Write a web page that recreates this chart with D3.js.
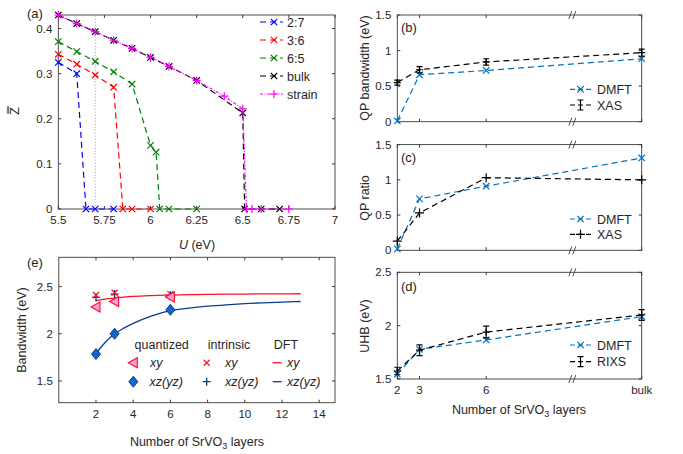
<!DOCTYPE html>
<html><head><meta charset="utf-8">
<script src="https://cdn.jsdelivr.net/npm/d3@7"></script>
<style>
body{margin:0;background:#fff}
text{font-family:"Liberation Sans",Arial,Helvetica,sans-serif;fill:#262626}
</style>
</head><body>
<svg id="c" width="683" height="454"></svg>
<script>
// ---------- Panel (a) data ----------
const u27 = [5.5, 5.6, 5.65, 5.7, 5.8];
const z27 = [0.325, 0.300, 0, 0, 0];
const u36 = [5.5, 5.6, 5.7, 5.8, 5.85, 5.9, 6.0];
const z36 = [0.343, 0.321, 0.297, 0.270, 0, 0, 0];
const u65 = [5.5, 5.6, 5.7, 5.8, 5.9, 6.0, 6.03, 6.05, 6.1, 6.25];
const z65 = [0.371, 0.349, 0.327, 0.304, 0.277, 0.141, 0.126, 0, 0, 0];
const uBulk = [5.5, 5.6, 5.7, 5.8, 5.9, 6.0, 6.1, 6.25, 6.5, 6.51, 6.6, 6.7];
const zBulk = [0.430, 0.411, 0.393, 0.374, 0.356, 0.336, 0.316, 0.285, 0.213, 0, 0, 0];
const uStrain = [5.5, 5.6, 5.7, 5.8, 5.9, 6.0, 6.1, 6.25, 6.4, 6.5, 6.52, 6.55, 6.6, 6.75];
const zStrain = [0.430, 0.411, 0.393, 0.374, 0.356, 0.336, 0.316, 0.285, 0.250, 0.222, 0, 0, 0, 0];
const aXTicks = [5.5, 5.75, 6, 6.25, 6.5, 6.75, 7];
const aXTickLabels = ["5.5", "5.75", "6", "6.25", "6.5", "6.75", "7"];
const aYTicks = [0, 0.1, 0.2, 0.3, 0.4];
const aYTickLabels = ["0", "0.1", "0.2", "0.3", "0.4"];
const aMarkU = 5.7;

// ---------- Panels (b)-(d) data ----------
const layerPos = [2, 3, 6, 13];
const layerLabels = ["2", "3", "6", "bulk"];
const qpBwDMFT = [0.01, 0.66, 0.72, 0.885];
const qpBwXAS = [0.55, 0.73, 0.84, 0.97];
const qpBwXASErr = [0.035, 0.045, 0.045, 0.05];
const qpRatioDMFT = [0.02, 0.73, 0.91, 1.31];
const qpRatioXAS = [0.13, 0.53, 1.03, 1.0];
const uhbDMFT = [1.545, 1.778, 1.866, 2.085];
const uhbRIXS = [1.575, 1.77, 1.94, 2.10];
const uhbRIXSErr = [0.035, 0.05, 0.055, 0.05];
const bdYTicks01 = [0, 0.5, 1, 1.5];
const bdYTickLabels01 = ["0", "0.5", "1", "1.5"];
const dYTicks = [1.5, 2, 2.5];
const dYTickLabels = ["1.5", "2", "2.5"];

// ---------- Panel (e) data ----------
const nLayers = [2, 3, 6];
const quantXY = [2.283, 2.342, 2.39];
const quantXZ = [1.785, 2.0, 2.254];
const intrXY = [2.41, 2.435, 2.42];
const intrXZ = [2.385, 2.42, 2.41];
const dftN  = [2, 2.5, 3, 3.5, 4, 5, 6, 7, 8, 9, 10, 11, 12, 13];
const dftXY = [2.352, 2.368, 2.378, 2.388, 2.396, 2.405, 2.41, 2.414, 2.417, 2.419, 2.421, 2.422, 2.423, 2.424];
const dftXZ = [1.79, 1.91, 2.0, 2.06, 2.11, 2.19, 2.245, 2.272, 2.292, 2.307, 2.319, 2.328, 2.336, 2.342];
const eXTicks = [2, 4, 6, 8, 10, 12, 14];
const eYTicks = [1.5, 2, 2.5];
const eYTickLabels = ["1.5", "2", "2.5"];

// ---------- drawing ----------
const svg = d3.select("#c");
const AX = "#3a3a3a";
const TL = 3;

function box(xs, ys, xt, yt, xLab, yLab, showX) {
  const g = svg.append("g");
  const [x0, x1] = xs.range(), [y0, y1] = ys.range(); // y0 bottom, y1 top
  g.append("rect").attr("x", x0).attr("y", y1).attr("width", x1 - x0).attr("height", y0 - y1)
    .attr("fill", "none").attr("stroke", AX).attr("stroke-width", 0.9);
  xt.forEach((t, i) => {
    const x = xs(t);
    g.append("line").attr("x1", x).attr("x2", x).attr("y1", y0).attr("y2", y0 - TL).attr("stroke", AX);
    g.append("line").attr("x1", x).attr("x2", x).attr("y1", y1).attr("y2", y1 + TL).attr("stroke", AX);
    if (showX) g.append("text").attr("x", x).attr("y", y0 + 15).attr("text-anchor", "middle")
      .attr("font-size", 11.5).text(xLab[i]);
  });
  yt.forEach((t, i) => {
    const y = ys(t);
    g.append("line").attr("x1", x0).attr("x2", x0 + TL).attr("y1", y).attr("y2", y).attr("stroke", AX);
    g.append("line").attr("x1", x1).attr("x2", x1 - TL).attr("y1", y).attr("y2", y).attr("stroke", AX);
    g.append("text").attr("x", x0 - 6).attr("y", y + 4).attr("text-anchor", "end")
      .attr("font-size", 11.5).text(yLab[i]);
  });
  return g;
}

function markX(g, x, y, r, c, w) {
  g.append("path").attr("d", `M${x-r},${y-r}L${x+r},${y+r}M${x-r},${y+r}L${x+r},${y-r}`)
    .attr("stroke", c).attr("stroke-width", w || 1.2).attr("fill", "none");
}
function markPlus(g, x, y, r, c, w) {
  g.append("path").attr("d", `M${x-r},${y}L${x+r},${y}M${x},${y-r}L${x},${y+r}`)
    .attr("stroke", c).attr("stroke-width", w || 1.2).attr("fill", "none");
}
function series(g, xs, ys, X, Y, color, dash, mark, r, w) {
  const pts = X.map((x, i) => [xs(x), ys(Y[i])]);
  g.append("path").attr("d", d3.line()(pts)).attr("fill", "none").attr("stroke", color)
    .attr("stroke-width", w || 1.2).attr("stroke-dasharray", dash);
  pts.forEach(p => mark(g, p[0], p[1], r, color));
}
function errbars(g, xs, ys, X, Y, E, color) {
  X.forEach((x, i) => {
    const px = xs(x), yt = ys(Y[i] + E[i]), yb = ys(Y[i] - E[i]);
    g.append("path").attr("d", `M${px},${yt}L${px},${yb}M${px-3},${yt}L${px+3},${yt}M${px-3},${yb}L${px+3},${yb}`)
      .attr("stroke", color).attr("stroke-width", 1.2).attr("fill", "none");
  });
}

// ===== Panel (a) =====
const ax = d3.scaleLinear().domain([5.5, 7]).range([58.3, 335]);
const ay = d3.scaleLinear().domain([0, 0.43]).range([209, 15]);
const ga = box(ax, ay, aXTicks, aYTicks, aXTickLabels, aYTickLabels, true);
ga.append("line").attr("x1", ax(aMarkU)).attr("x2", ax(aMarkU)).attr("y1", ay(0)).attr("y2", ay(0.43))
  .attr("stroke", "#b8b8b8").attr("stroke-width", 1).attr("stroke-dasharray", "1.5,1.5");
const DASH = "6,4";
series(ga, ax, ay, u27, z27, "#0000ff", DASH, markX, 3.2);
series(ga, ax, ay, u36, z36, "#ff0000", DASH, markX, 3.2);
series(ga, ax, ay, u65, z65, "#008000", DASH, markX, 3.2);
series(ga, ax, ay, uBulk, zBulk, "#000000", DASH, markX, 3.2);
series(ga, ax, ay, uStrain, zStrain, "#ff00ff", "3,1.5,1,1.5", markPlus, 4);
svg.append("text").attr("x", 27).attr("y", 18).attr("font-size", 13).text("(a)");
svg.append("text").attr("transform", "translate(19,111) rotate(-90)").attr("text-anchor", "middle")
  .attr("font-size", 13).text("Z\u033F");
const ut = svg.append("text").attr("x", 197).attr("y", 249).attr("text-anchor", "middle").attr("font-size", 12.5);
ut.append("tspan").attr("font-style", "italic").text("U");
ut.append("tspan").text(" (eV)");
// legend (a)
const legA = [["2:7", "#0000ff", DASH, markX, 3.2], ["3:6", "#ff0000", DASH, markX, 3.2],
  ["6:5", "#008000", DASH, markX, 3.2], ["bulk", "#000000", DASH, markX, 3.2],
  ["strain", "#ff00ff", "3,1.5,1,1.5", markPlus, 4]];
legA.forEach((d, i) => {
  const y = 22 + i * 18;
  svg.append("line").attr("x1", 260).attr("x2", 283).attr("y1", y).attr("y2", y)
    .attr("stroke", d[1]).attr("stroke-width", 1.2).attr("stroke-dasharray", d[2]);
  d[3](svg, 274, y, d[4], d[1]);
  svg.append("text").attr("x", 287).attr("y", y + 4.5).attr("font-size", 12.5).text(d[0]);
});

// ===== Panels (b)-(d) =====
const bx = d3.scaleLinear().domain([2, 13]).range([397.3, 641.7]);
const BREAK = 9.9;
const BLUE = "#0072bd";
function breaks(ys) {
  const [yb, yt] = ys.range();
  [yb, yt].forEach(y => {
    const x = bx(BREAK);
    svg.append("path").attr("d", `M${x-4},${y+4}L${x-1},${y-4}M${x},${y+4}L${x+3},${y-4}`)
      .attr("stroke", AX).attr("stroke-width", 0.9).attr("fill", "none");
  });
}
function legendBD(y1, y2, lab2, errStyle) {
  const x0 = 570, x1 = 591, xm = 580.5;
  svg.append("line").attr("x1", x0).attr("x2", x1).attr("y1", y1).attr("y2", y1)
    .attr("stroke", BLUE).attr("stroke-width", 1.2).attr("stroke-dasharray", "5,3");
  markX(svg, xm, y1, 3.2, BLUE);
  svg.append("text").attr("x", 597).attr("y", y1 + 4.5).attr("font-size", 12.5).text("DMFT");
  svg.append("line").attr("x1", x0).attr("x2", x1).attr("y1", y2).attr("y2", y2)
    .attr("stroke", "#000").attr("stroke-width", 1.2).attr("stroke-dasharray", "5,3");
  if (errStyle) {
    svg.append("path").attr("d", `M${xm},${y2-5}L${xm},${y2+5}M${xm-3},${y2-5}L${xm+3},${y2-5}M${xm-3},${y2+5}L${xm+3},${y2+5}`)
      .attr("stroke", "#000").attr("stroke-width", 1.2).attr("fill", "none");
  } else {
    markPlus(svg, xm, y2, 4.5, "#000");
  }
  svg.append("text").attr("x", 597).attr("y", y2 + 4.5).attr("font-size", 12.5).text(lab2);
}
function ytitle(x, y, t) {
  svg.append("text").attr("transform", `translate(${x},${y}) rotate(-90)`).attr("text-anchor", "middle")
    .attr("font-size", 12.5).text(t);
}

// (b)
const by = d3.scaleLinear().domain([0, 1.5]).range([121.7, 15]);
const gb = box(bx, by, layerPos, bdYTicks01, layerLabels, bdYTickLabels01, false);
series(gb, bx, by, layerPos, qpBwDMFT, BLUE, "6,4", markX, 3.2);
series(gb, bx, by, layerPos, qpBwXAS, "#000", "6,4", markPlus, 3.5);
errbars(gb, bx, by, layerPos, qpBwXAS, qpBwXASErr, "#000");
breaks(by);
svg.append("text").attr("x", 401).attr("y", 32).attr("font-size", 13).text("(b)");
ytitle(369, 68, "QP bandwidth (eV)");
legendBD(89.3, 105, "XAS", true);

// (c)
const cy = d3.scaleLinear().domain([0, 1.5]).range([250.3, 144.6]);
const gc = box(bx, cy, layerPos, bdYTicks01, layerLabels, bdYTickLabels01, false);
series(gc, bx, cy, layerPos, qpRatioDMFT, BLUE, "6,4", markX, 3.2);
series(gc, bx, cy, layerPos, qpRatioXAS, "#000", "6,4", markPlus, 4.5);
breaks(cy);
svg.append("text").attr("x", 401).attr("y", 162).attr("font-size", 13).text("(c)");
ytitle(369, 198, "QP ratio");
legendBD(219, 234.3, "XAS", false);

// (d)
const dy = d3.scaleLinear().domain([1.5, 2.5]).range([379, 272.3]);
const gd = box(bx, dy, layerPos, dYTicks, layerLabels, dYTickLabels, true);
series(gd, bx, dy, layerPos, uhbDMFT, BLUE, "6,4", markX, 3.2);
series(gd, bx, dy, layerPos, uhbRIXS, "#000", "6,4", markPlus, 3.5);
errbars(gd, bx, dy, layerPos, uhbRIXS, uhbRIXSErr, "#000");
breaks(dy);
svg.append("text").attr("x", 401).attr("y", 291).attr("font-size", 13).text("(d)");
ytitle(369, 326, "UHB (eV)");
legendBD(345, 361.7, "RIXS", true);

function srvoTitle(x, y) {
  const t = svg.append("text").attr("x", x).attr("y", y).attr("text-anchor", "middle").attr("font-size", 12.5);
  t.append("tspan").text("Number of SrVO");
  t.append("tspan").attr("dy", 3).attr("font-size", 9).text("3");
  t.append("tspan").attr("dy", -3).text(" layers");
}
srvoTitle(519, 414);

// ===== Panel (e) =====
const ex = d3.scaleLinear().domain([0, 14.85]).range([58.8, 335]);
const ey = d3.scaleLinear().domain([1.27, 2.81]).range([402.7, 257.3]);
const ge = box(ex, ey, eXTicks, eYTicks, eXTicks.map(String), eYTickLabels, true);
const RED = "#ff1020", NAVY = "#0d3a8c", PINK = "#f59ee0", DBLUE = "#1565c8";
const curve = d3.line().curve(d3.curveMonotoneX);
ge.append("path").attr("d", curve(dftN.map((n, i) => [ex(n), ey(dftXY[i])])))
  .attr("fill", "none").attr("stroke", RED).attr("stroke-width", 1.3);
ge.append("path").attr("d", curve(dftN.map((n, i) => [ex(n), ey(dftXZ[i])])))
  .attr("fill", "none").attr("stroke", NAVY).attr("stroke-width", 1.3);
function tri(g, x, y) {
  g.append("path").attr("d", `M${x-5},${y}L${x+4},${y-5}L${x+4},${y+5}Z`)
    .attr("fill", PINK).attr("stroke", RED).attr("stroke-width", 1.1);
}
function diam(g, x, y) {
  g.append("path").attr("d", `M${x},${y-5.5}L${x+4.5},${y}L${x},${y+5.5}L${x-4.5},${y}Z`)
    .attr("fill", DBLUE).attr("stroke", NAVY).attr("stroke-width", 1);
}
nLayers.forEach((n, i) => {
  markPlus(ge, ex(n), ey(intrXZ[i]), 4, NAVY, 1.3);
  markX(ge, ex(n), ey(intrXY[i]), 3, RED, 1.3);
  tri(ge, ex(n), ey(quantXY[i]));
  diam(ge, ex(n), ey(quantXZ[i]));
});
svg.append("text").attr("x", 27).attr("y", 267).attr("font-size", 13).text("(e)");
ytitle(26, 330, "Bandwidth (eV)");
srvoTitle(197, 446);
// legend (e)
[["quantized", 161.7], ["intrinsic", 229], ["DFT", 286]].forEach(d => {
  svg.append("text").attr("x", d[1]).attr("y", 348.5).attr("text-anchor", "middle").attr("font-size", 12.5).text(d[0]);
});
const r1 = 362.7, r2 = 381.7;
tri(svg, 133.3, r1); diam(svg, 133.3, r2);
markX(svg, 206.7, r1, 3, RED, 1.3); markPlus(svg, 206.7, r2, 4, NAVY, 1.3);
svg.append("line").attr("x1", 272.7).attr("x2", 281.7).attr("y1", r1).attr("y2", r1).attr("stroke", RED).attr("stroke-width", 1.3);
svg.append("line").attr("x1", 272.7).attr("x2", 281.7).attr("y1", r2).attr("y2", r2).attr("stroke", NAVY).attr("stroke-width", 1.3);
[[150, r1, "xy"], [225, r1, "xy"], [287, r1, "xy"], [149.5, r2, "xz(yz)"], [225, r2, "xz(yz)"], [287, r2, "xz(yz)"]].forEach(d => {
  svg.append("text").attr("x", d[0]).attr("y", d[1] + 4.5).attr("font-size", 12.5).attr("font-style", "italic").text(d[2]);
});
</script>
</body></html>
